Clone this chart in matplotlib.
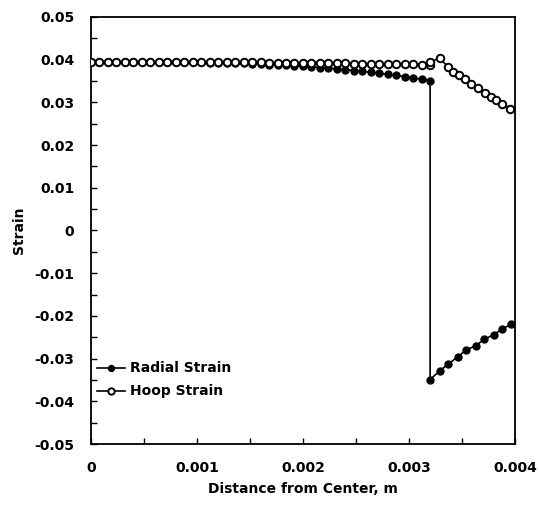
import matplotlib
matplotlib.use("Agg")
import matplotlib.pyplot as plt
from matplotlib.ticker import MultipleLocator, FuncFormatter

plt.rcParams['font.family'] = ['DejaVu Sans']
plt.rcParams['axes.unicode_minus'] = False

radial_x = [0.00000, 0.00008, 0.00016, 0.00024, 0.00032, 0.00040, 0.00048, 0.00056,
            0.00064, 0.00072, 0.00080, 0.00088, 0.00096, 0.00104, 0.00112, 0.00120,
            0.00128, 0.00136, 0.00144, 0.00152, 0.00160, 0.00168, 0.00176, 0.00184,
            0.00192, 0.00200, 0.00208, 0.00216, 0.00224, 0.00232, 0.00240, 0.00248,
            0.00256, 0.00264, 0.00272, 0.00280, 0.00288, 0.00296, 0.00304, 0.00312,
            0.00320,
            0.00320, 0.00329, 0.00337, 0.00346, 0.00354, 0.00363, 0.00371, 0.00380,
            0.00388, 0.00396]
radial_strain = [0.03950, 0.03950, 0.03950, 0.03950, 0.03950, 0.03949, 0.03949, 0.03948,
                 0.03946, 0.03945, 0.03943, 0.03941, 0.03938, 0.03935, 0.03931, 0.03927,
                 0.03922, 0.03916, 0.03910, 0.03903, 0.03895, 0.03886, 0.03877, 0.03866,
                 0.03855, 0.03843, 0.03829, 0.03815, 0.03799, 0.03782, 0.03764, 0.03745,
                 0.03725, 0.03703, 0.03680, 0.03655, 0.03629, 0.03602, 0.03573, 0.03542,
                 0.03510,
                 -0.0349, -0.0329, -0.0313, -0.0296, -0.0280, -0.0270, -0.0255, -0.0244,
                 -0.0231, -0.0220]

hoop_x = [0.00000, 0.00008, 0.00016, 0.00024, 0.00032, 0.00040, 0.00048, 0.00056,
          0.00064, 0.00072, 0.00080, 0.00088, 0.00096, 0.00104, 0.00112, 0.00120,
          0.00128, 0.00136, 0.00144, 0.00152, 0.00160, 0.00168, 0.00176, 0.00184,
          0.00192, 0.00200, 0.00208, 0.00216, 0.00224, 0.00232, 0.00240, 0.00248,
          0.00256, 0.00264, 0.00272, 0.00280, 0.00288, 0.00296, 0.00304, 0.00312,
          0.00320,
          0.00320, 0.00329, 0.00337, 0.00342, 0.00347, 0.00353, 0.00359, 0.00365,
          0.00372, 0.00377, 0.00382, 0.00388, 0.00395]
hoop_strain = [0.03950, 0.03950, 0.03950, 0.03950, 0.03949, 0.03949, 0.03948, 0.03948,
               0.03947, 0.03946, 0.03946, 0.03945, 0.03944, 0.03943, 0.03941, 0.03940,
               0.03939, 0.03937, 0.03936, 0.03934, 0.03933, 0.03931, 0.03929, 0.03927,
               0.03925, 0.03923, 0.03920, 0.03918, 0.03916, 0.03913, 0.03911, 0.03908,
               0.03905, 0.03902, 0.03899, 0.03896, 0.03893, 0.03890, 0.03887, 0.03883,
               0.03880,
               0.03950, 0.04030, 0.03830, 0.03720, 0.03650, 0.03540, 0.03420, 0.03340,
               0.03220, 0.03120, 0.03050, 0.02970, 0.02850]

x_ticks = [0, 0.001, 0.002, 0.003, 0.004]
y_ticks = [0.05, 0.04, 0.03, 0.02, 0.01, 0, -0.01, -0.02, -0.03, -0.04, -0.05]

fig = plt.figure(figsize=(5.40, 5.13), dpi=100)
ax = fig.add_axes([0.1685, 0.1345, 0.785, 0.8325])

ax.plot(radial_x, radial_strain, color='black', lw=1.2, marker='o', ms=5,
        mfc='black', mec='black', mew=1.0, label='Radial Strain', zorder=3)
ax.plot(hoop_x, hoop_strain, color='black', lw=1.2, marker='o', ms=5.4,
        mfc='white', mec='black', mew=1.4, label='Hoop Strain', zorder=4)

ax.set_xlim(0, 0.004)
ax.set_ylim(-0.05, 0.05)
ax.set_xticks(x_ticks)
ax.set_yticks(y_ticks)
fmt = FuncFormatter(lambda v, p: '%g' % round(v, 6))
ax.xaxis.set_major_formatter(fmt)
ax.yaxis.set_major_formatter(fmt)
ax.xaxis.set_minor_locator(MultipleLocator(0.0005))
ax.yaxis.set_minor_locator(MultipleLocator(0.005))
ax.tick_params(which='both', direction='in', length=4, width=1.0,
               top=False, right=False, labelsize=10)
ax.tick_params(axis='y', which='major', pad=12)
ax.tick_params(axis='x', which='major', pad=12)
for lab in ax.get_xticklabels() + ax.get_yticklabels():
    lab.set_fontweight('bold')
for s in ax.spines.values():
    s.set_linewidth(1.3)

ax.set_xlabel('Distance from Center, m', fontsize=10, fontweight='bold', labelpad=5)
ax.set_ylabel('Strain', fontsize=10, fontweight='bold', labelpad=6)

leg = ax.legend(loc='center left', bbox_to_anchor=(0.014, 0.15), frameon=False,
                fontsize=10, handlelength=2.0, handletextpad=0.4,
                borderpad=0, borderaxespad=0, labelspacing=0.65, markerscale=0.85)
for t in leg.get_texts():
    t.set_fontweight('bold')

fig.savefig('out.png', dpi=100)
